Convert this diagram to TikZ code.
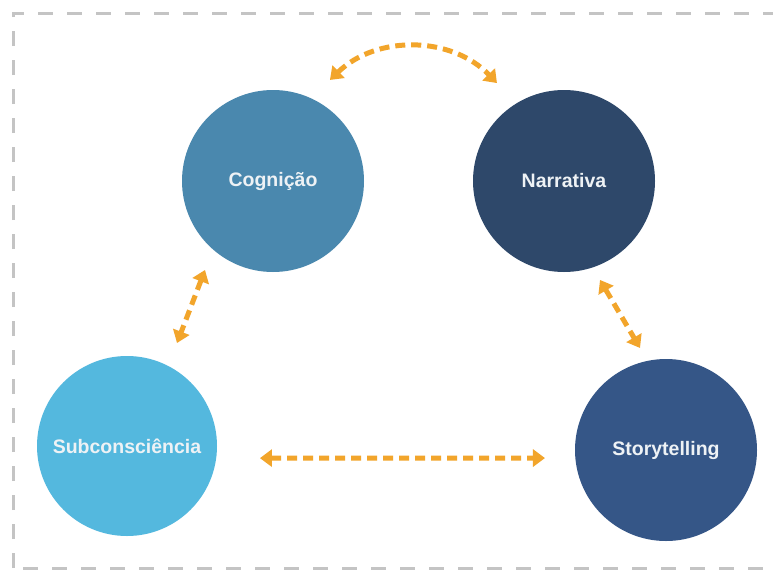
\documentclass[tikz,border=0pt]{standalone}
\usepackage{fontspec}
\setmainfont{Liberation Sans}
\usetikzlibrary{arrows.meta,calc}
\definecolor{cogc}{HTML}{4A88AE}
\definecolor{narc}{HTML}{2E486A}
\definecolor{subc}{HTML}{54B8DE}
\definecolor{stoc}{HTML}{355687}
\definecolor{arrc}{HTML}{F2A52B}
\definecolor{frc}{HTML}{C4C4C4}
\definecolor{txtc}{HTML}{EEF2F5}
\tikzset{
  bubble/.style={circle, minimum size=182pt, inner sep=0pt, draw=none,
    text=txtc, font=\fontsize{19.5}{22}\selectfont\bfseries},
  link/.style={arrc, line width=5pt, dash pattern=on 10pt off 6pt,
    {Triangle[length=12pt,width=17pt]}-{Triangle[length=12pt,width=17pt]}},
  frame/.style={frc, line width=3pt, dash pattern=on 15pt off 14pt}
}
\begin{document}
\begin{tikzpicture}[x=1pt,y=-1pt]
\useasboundingbox (0,0) rectangle (773,570);
\clip (0,0) rectangle (773,570);
\fill[white] (0,0) rectangle (773,570);
\draw[frame] (13,790) -- (13,568) -- (800,568);
\draw[frame] (13,568) -- (13,13) -- (800,13);
\node[bubble, fill=cogc] (cog) at (273,181) {Cognição};
\node[bubble, fill=narc] (nar) at (564,181) {Narrativa};
\node[bubble, fill=subc, minimum size=180pt] (sub) at (127,446) {Subconsciência};
\node[bubble, fill=stoc] (sto) at (666,450) {Storytelling};
\draw[link] ($(cog.center)+(60.6:116pt)$) to[bend left=45] ($(nar.center)+(124.4:118.7pt)$);
\draw[link] ($(cog.center)+(232.6:112pt)$) -- ($(sub.center)+(64.1:114.5pt)$);
\draw[link] ($(nar.center)+(-70:105.3pt)$) -- ($(sto.center)+(104.3:105.3pt)$);
\draw[link] ($(sub.center)+(-5.2:133.5pt)$) -- ($(sto.center)+(183.8:121.3pt)$);
\end{tikzpicture}
\end{document}
